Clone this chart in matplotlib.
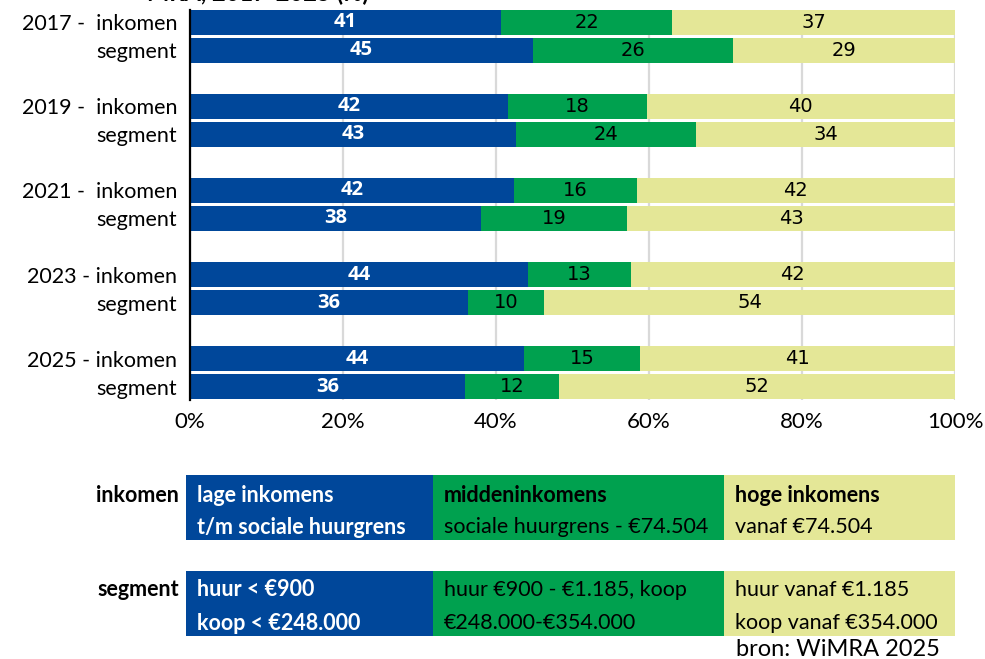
import matplotlib
matplotlib.use("Agg")
import matplotlib.pyplot as plt
from matplotlib.patches import Rectangle

# ---- data ----
row_labels = ["2017 -  inkomen", "segment", "2019 -  inkomen", "segment",
              "2021 -  inkomen", "segment", "2023 - inkomen", "segment",
              "2025 - inkomen", "segment"]
laag = [40.7, 44.8, 41.6, 42.6, 42.4, 38.1, 44.2, 36.3, 43.7, 36.0]
midden = [22.3, 26.2, 18.1, 23.6, 16.0, 19.1, 13.4, 10.0, 15.2, 12.3]
hoog = [37.0, 29.0, 40.3, 33.8, 41.6, 42.8, 42.4, 53.7, 41.1, 51.7]
xticks = [0, 20, 40, 60, 80, 100]
xtick_labels = ["0%", "20%", "40%", "60%", "80%", "100%"]
positions = [0, 1, 3, 4, 6, 7, 9, 10, 12, 13]

title_text = "MRA, 2017-2025 (%)"
legend_rows = ["inkomen", "segment"]
legend_text = {
    "inkomen": [("lage inkomens", "t/m sociale huurgrens"),
                ("middeninkomens", "sociale huurgrens - €74.504"),
                ("hoge inkomens", "vanaf €74.504")],
    "segment": [("huur < €900", "koop < €248.000"),
                ("huur €900 - €1.185, koop", "€248.000-€354.000"),
                ("huur vanaf €1.185", "koop vanaf €354.000")],
}
source = "bron: WiMRA 2025"

BLUE = "#00479a"
GREEN = "#00a14f"
YELLOW = "#e4e797"
FONT = "Lato"

W, H = 985, 659
fig = plt.figure(figsize=(W / 100, H / 100), dpi=100)
ax = fig.add_axes([189.7 / W, 1 - 400 / H, (955 - 189.7) / W, (400 - 9.5) / H])

bh = 0.91
b1 = ax.barh(positions, laag, height=bh, color=BLUE, edgecolor="none", zorder=3)
lefts2 = laag
b2 = ax.barh(positions, midden, left=lefts2, height=bh, color=GREEN, edgecolor="none", zorder=3)
lefts3 = [a + b for a, b in zip(laag, midden)]
b3 = ax.barh(positions, hoog, left=lefts3, height=bh, color=YELLOW, edgecolor="none", zorder=3)

ax.bar_label(b1, labels=[f"{v:.0f}" for v in laag], label_type="center",
             color="white", fontweight="bold", fontsize=14.5, family="Open Sans", zorder=4)
ax.bar_label(b2, labels=[f"{v:.0f}" for v in midden], label_type="center",
             color="black", fontsize=14, family="DejaVu Sans", zorder=4)
ax.bar_label(b3, labels=[f"{v:.0f}" for v in hoog], label_type="center",
             color="black", fontsize=14, family="DejaVu Sans", zorder=4)

ax.set_xlim(0, 100)
ax.set_ylim(13.48, -0.46)
ax.set_yticks(positions)
ax.set_yticklabels(row_labels, family=FONT, fontsize=15.5)
ax.set_xticks(xticks)
ax.set_xticklabels(xtick_labels, family=FONT, fontsize=16)
ax.tick_params(axis="both", length=0)
ax.tick_params(axis="y", pad=9)
ax.tick_params(axis="x", pad=9)
ax.grid(axis="x", color="#d9d9d9", linewidth=1.6, zorder=0)
for s in ["top", "right", "bottom"]:
    ax.spines[s].set_visible(False)
ax.spines["left"].set_color("black")
ax.spines["left"].set_linewidth(1.6)
ax.spines["left"].set_zorder(5)

# clipped title at top (only its lower edge is visible, as in the reference)
fig.text(147 / W, 1 - 1.5 / H, title_text, ha="left", va="baseline",
         fontsize=17, fontweight="bold", family=FONT)

# legend boxes
xs = [186, 433, 724, 955]
cols = [BLUE, GREEN, YELLOW]
tcols = ["white", "black", "black"]
box_y = {"inkomen": (475, 540), "segment": (571, 636)}
line_y = {"inkomen": (495, 527), "segment": (590, 623)}
bold_map = {
    "inkomen": [(True, True), (True, False), (True, False)],
    "segment": [(True, True), (False, False), (False, False)],
}
for row in legend_rows:
    y0, y1 = box_y[row]
    fig.text(179 / W, 1 - line_y[row][0] / H, row, ha="right", va="center",
             fontsize=15.5, fontweight="bold", family=FONT)
    for i in range(3):
        fig.add_artist(Rectangle((xs[i] / W, 1 - y1 / H), (xs[i + 1] - xs[i]) / W,
                                 (y1 - y0) / H, transform=fig.transFigure,
                                 facecolor=cols[i], edgecolor="none"))
        for j in range(2):
            fig.text((xs[i] + 11) / W, 1 - line_y[row][j] / H, legend_text[row][i][j],
                     ha="left", va="center", fontsize=15.5, color=tcols[i],
                     fontweight="bold" if bold_map[row][i][j] else "normal", family=FONT)

fig.text(736 / W, 1 - 650 / H, source, ha="left", va="center", fontsize=17, family=FONT)

fig.savefig("out.png", dpi=100)
